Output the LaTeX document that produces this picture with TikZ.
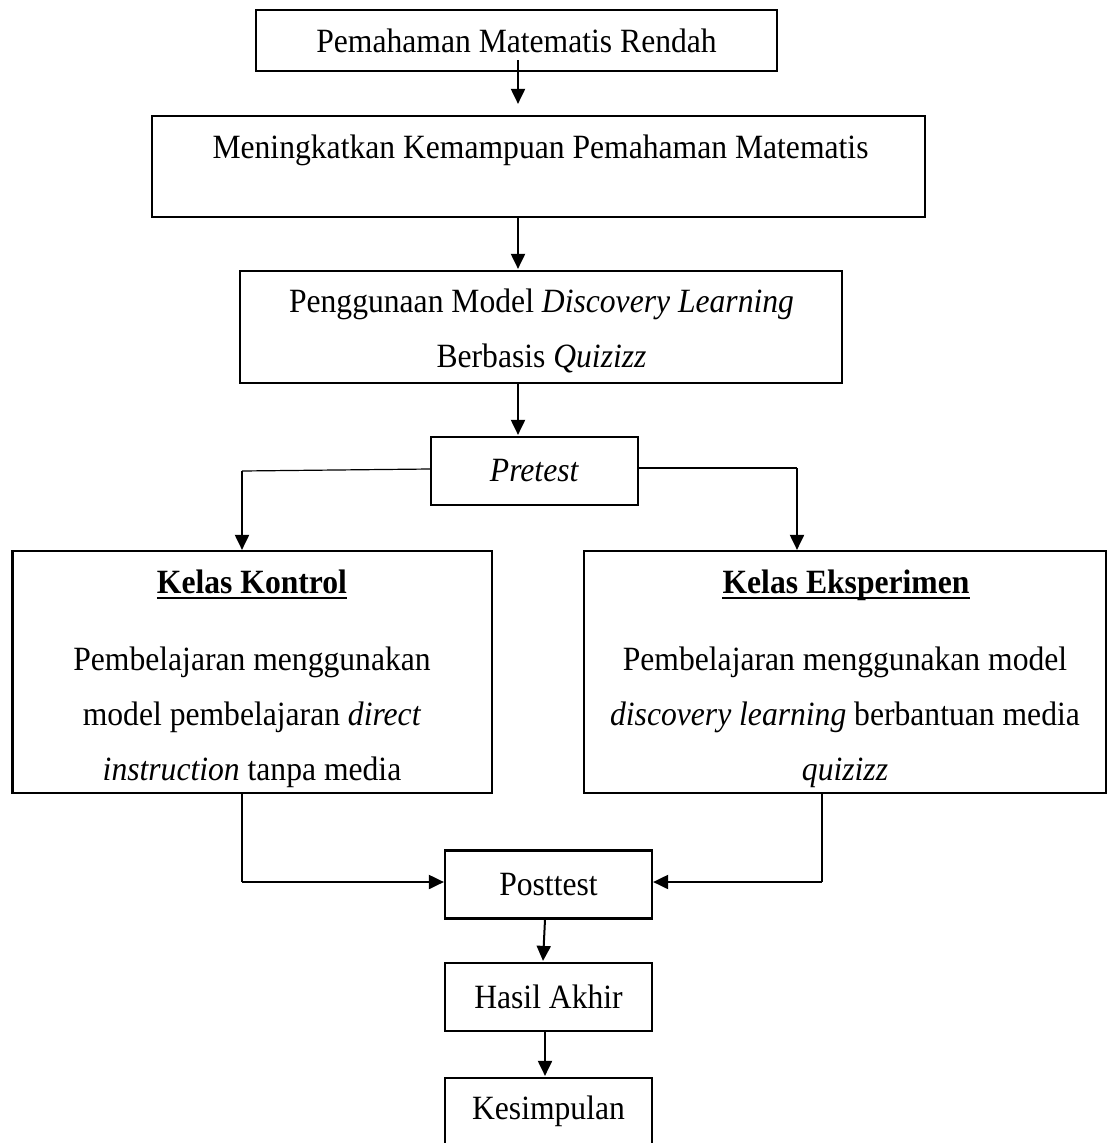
\documentclass[tikz,border=0pt]{standalone}
\usepackage{fontspec}
\setmainfont{Liberation Serif}[FakeStretch=0.93]
\usetikzlibrary{arrows.meta,calc}
\tikzset{
  box/.style={draw,line width=2.2pt,inner sep=0pt,align=center},
  txt/.style={inner sep=0pt,align=center},
  arr/.style={line width=2pt,-{Triangle[length=15pt,width=14pt]}},
  thinl/.style={line width=1.2pt},
  uline/.style={line width=1.8pt},
}
\begin{document}
\begin{tikzpicture}[x=1pt,y=-1pt,font=\fontsize{34}{55}\selectfont]
\useasboundingbox (0,0) rectangle (1107,1143);
% boxes
\node[box,minimum width=521,minimum height=61] (b1) at (516.5,40.5) {Pemahaman Matematis Rendah};
\node[box,minimum width=773,minimum height=101] (b2) at (538.5,166.5) {};
\node[txt,anchor=base] (b2t) at (540.5,158) {Meningkatkan Kemampuan Pemahaman Matematis};
\node[box,minimum width=602,minimum height=112] (b3) at (541,327) {};
\node[txt,anchor=north] (b3t) at (541.5,289) {Penggunaan Model \textit{Discovery Learning}\\Berbasis \textit{Quizizz}};
\node[box,minimum width=207,minimum height=68] (pre) at (534.5,471) {\textit{Pretest}};
\node[box,minimum width=479.5,minimum height=242] (kk) at (252.25,672) {};
\node[txt,anchor=base] (kkt) at (252,593) {\textbf{Kelas Kontrol}};
\node[txt,anchor=north] (kkb) at (252,647) {Pembelajaran menggunakan\\model pembelajaran \textit{direct}\\\textit{instruction} tanpa media};
\node[box,minimum width=522,minimum height=242] (ke) at (845,672) {};
\node[txt,anchor=base] (ket) at (846,593) {\textbf{Kelas Eksperimen}};
\node[txt,anchor=north] (keb) at (845,647) {Pembelajaran menggunakan model\\\textit{discovery learning} berbantuan media\\\textit{quizizz}};
\node[box,minimum width=207,minimum height=68] (post) at (548.5,884.5) {Posttest};
\node[box,minimum width=207,minimum height=68] (has) at (548.5,997) {Hasil Akhir};
\node[box,minimum width=207,minimum height=66] (kes) at (548.5,1111) {Kesimpulan};
% underlines
\draw[uline] ([yshift=-5pt]kkt.base west) -- ([yshift=-5pt]kkt.base east);
\draw[uline] ([yshift=-5pt]ket.base west) -- ([yshift=-5pt]ket.base east);
% connectors
\draw[arr] ([shift={(1.5pt,12pt)}]b1.south) -- ([shift={(-20.5pt,11pt)}]b2.north);
\draw[arr] ([xshift=-20.5pt]b2.south) -- ([xshift=-23pt,yshift=1pt]b3.north);
\draw[arr] ([xshift=-23pt]b3.south) -- ([xshift=-16.5pt,yshift=1pt]pre.north);
\coordinate (kl) at (242,471);
\coordinate (kr) at (797,468);
\draw[thinl] ([yshift=2pt]pre.west) -- (kl);
\draw[thinl] ([yshift=3pt]pre.east) -- (kr);
\draw[arr] (kl) -- (kl |- kk.north);
\draw[arr] (kr) -- (kr |- ke.north);
\coordinate (ml) at (242,882);
\coordinate (mr) at (822,882);
\draw[thinl] (kk.south -| ml) -- (ml);
\draw[thinl] (ke.south -| mr) -- (mr);
\draw[arr] (ml) -- (ml -| post.west);
\draw[arr] (mr) -- (mr -| post.east);
\draw[arr] ([xshift=-3.5pt]post.south) -- ([xshift=-5.5pt,yshift=1pt]has.north);
\draw[arr] ([xshift=-3.5pt]has.south) -- ([xshift=-3.5pt,yshift=1pt]kes.north);
\end{tikzpicture}
\end{document}
